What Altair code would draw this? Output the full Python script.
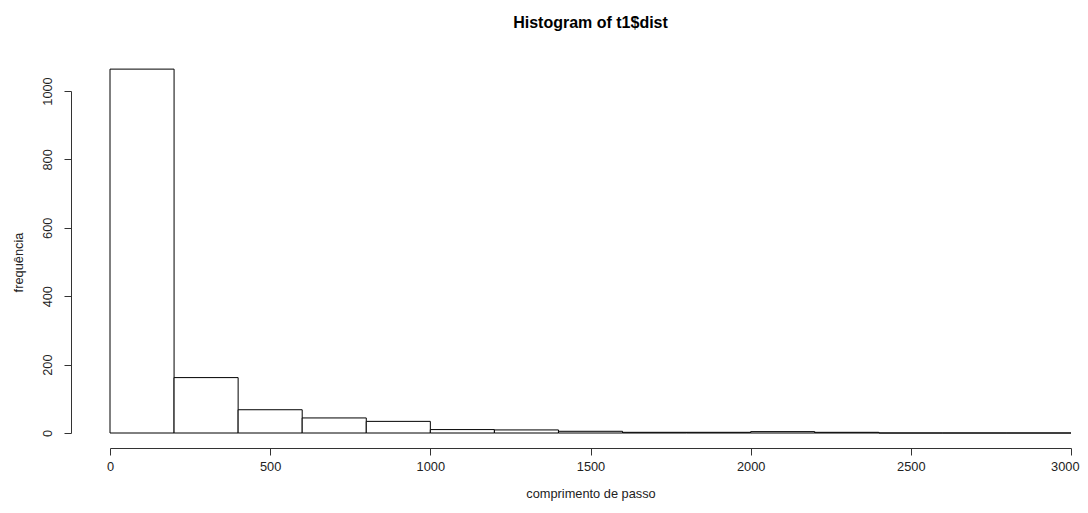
import altair as alt
import pandas as pd

bin_start = [0, 200, 400, 600, 800, 1000, 1200, 1400, 1600, 1800, 2000, 2200, 2400, 2600, 2800]
bin_end = [200, 400, 600, 800, 1000, 1200, 1400, 1600, 1800, 2000, 2200, 2400, 2600, 2800, 3000]
counts = [1064, 162, 68, 44, 34, 10, 9, 5, 2, 2, 4, 2, 0, 0, 0]
x_ticks = [0, 500, 1000, 1500, 2000, 2500, 3000]
y_ticks = [0, 200, 400, 600, 800, 1000]

df = pd.DataFrame({"start": bin_start, "end": bin_end, "count": counts})

FONT = "Liberation Sans"

bars = alt.Chart(df).mark_bar(
    fill="white", stroke="black", strokeWidth=1, binSpacing=0, clip=False
).encode(
    x=alt.X("start:Q",
            scale=alt.Scale(domain=[0, 3000], nice=False, zero=False),
            axis=alt.Axis(values=x_ticks, format="d", title="comprimento de passo", offset=15,
                          grid=False, tickSize=7, domainColor="#333", tickColor="#333",
                          labelColor="#222", labelFont=FONT, labelFontSize=12.8,
                          labelAlign={"condition": {"test": "datum.value === 3000", "value": "right"},
                                      "value": "center"},
                          labelOffset={"condition": {"test": "datum.value === 3000", "value": 8},
                                       "value": 0},
                          labelPadding=5, titleFont=FONT, titleFontSize=12.8,
                          titleFontWeight="normal", titleColor="#222", titlePadding=15,
                          labelFlush=False)),
    x2="end:Q",
    y=alt.Y("count:Q",
            scale=alt.Scale(domain=[0, 1000], nice=False, zero=True),
            axis=alt.Axis(values=y_ticks, format="d", title="frequência", offset=39,
                          grid=False, tickSize=7, domainColor="#333", tickColor="#333",
                          labelColor="#222", labelFont=FONT, labelFontSize=12.8,
                          labelAngle=-90, labelAlign="center", labelBaseline="bottom",
                          labelPadding=10, titleFont=FONT, titleFontSize=12.8,
                          titleFontWeight="normal", titleColor="#222", titlePadding=16,
                          labelFlush=False)),
    y2=alt.datum(0),
)

chart = bars.properties(
    width=961,
    height=342,
    title=alt.TitleParams("Histogram of t1$dist", font=FONT, fontSize=16,
                          fontWeight="bold", color="black", anchor="middle",
                          frame="group", baseline="bottom", offset=22),
    autosize=alt.AutoSizeParams(type="none"),
    padding={"left": 102, "top": 83, "right": 9, "bottom": 68},
).configure(background="white").configure_view(stroke=None)

chart.save("out.html", embed_options={"renderer": "svg", "actions": False})
